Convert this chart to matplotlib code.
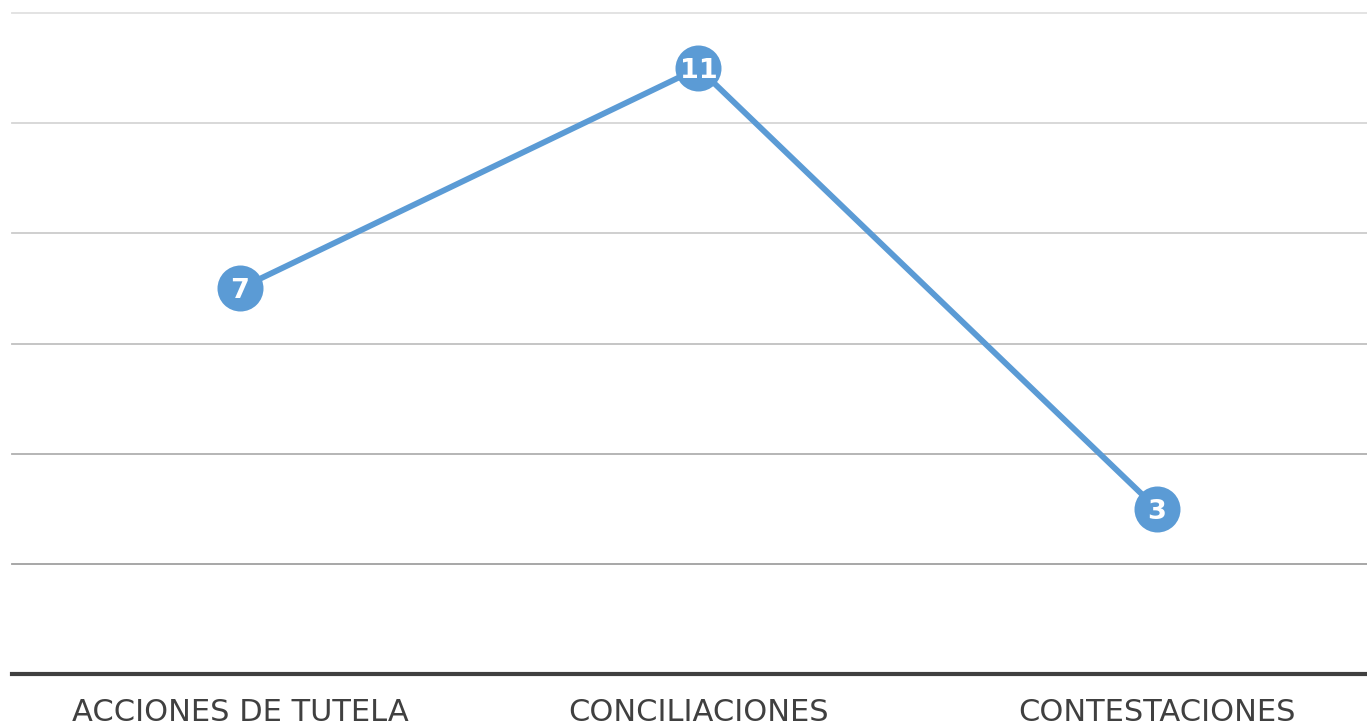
import matplotlib
matplotlib.use("Agg")
import matplotlib.pyplot as plt

plt.rcParams["font.family"] = ["DejaVu Sans"]

categories = ["ACCIONES DE TUTELA", "CONCILIACIONES", "CONTESTACIONES"]
values = [7, 11, 3]
grid_levels = [2, 4, 6, 8, 10, 12]
grid_colors = ["#a0a0a0", "#b0b0b0", "#c0c0c0", "#cccccc", "#d6d6d6", "#e0e0e0"]

W, H = 1367, 728
fig = plt.figure(figsize=(W / 100, H / 100), dpi=100)
ax = fig.add_axes([12 / W, (H - 674) / H, (W - 12) / W, (674 - 13) / H])
ax.set_ylim(0, 12)
ax.set_xlim(-0.497, 2.458)

for lvl, c in zip(grid_levels, grid_colors):
    ax.axhline(lvl, color=c, lw=1.3, zorder=1, clip_on=False)

x = list(range(len(categories)))
ax.plot(x, values, color="#5b9bd5", lw=4.2, zorder=3, solid_capstyle="round")
ax.scatter(x, values, s=(46 * 0.72) ** 2, color="#5b9bd5", zorder=4, linewidths=0, clip_on=False)
for xi, v in zip(x, values):
    ax.text(xi, v, str(v), color="white", fontsize=19.5, fontweight="bold",
            ha="center", va="center_baseline", zorder=5, family="DejaVu Sans")

for s in ["top", "right", "left"]:
    ax.spines[s].set_visible(False)
ax.spines["bottom"].set_color("#404040")
ax.spines["bottom"].set_linewidth(3)
ax.set_yticks([])
ax.set_xticks(x)
ax.set_xticklabels(categories, fontsize=22, color="#404040", family="DejaVu Sans")
ax.tick_params(axis="x", length=0, pad=17)

fig.savefig("out.png", dpi=100)
